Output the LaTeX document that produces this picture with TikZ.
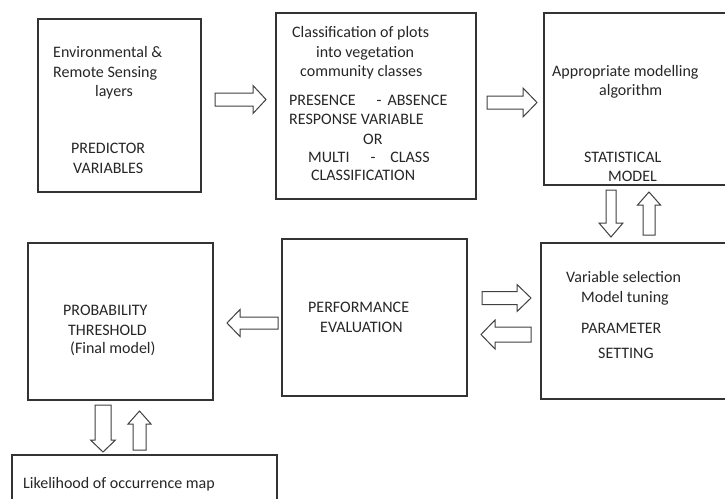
\documentclass[tikz,border=0pt]{standalone}
\usepackage{fontspec}
\setmainfont{Carlito}
\newcommand\harrowshape[6]{% tail x, head base x, tip x, y, shaft half, head half
  \draw[blockarrow] (#1,#4-#5) -- (#2,#4-#5) -- (#2,#4-#6) -- (#3,#4) -- (#2,#4+#6) -- (#2,#4+#5) -- (#1,#4+#5) -- cycle;}
\newcommand\varrowshape[6]{% x, tail y, head base y, tip y, shaft half, head half
  \draw[blockarrow] (#1-#5,#2) -- (#1-#5,#3) -- (#1-#6,#3) -- (#1,#4) -- (#1+#6,#3) -- (#1+#5,#3) -- (#1+#5,#2) -- cycle;}
\begin{document}
\begin{tikzpicture}[x=1pt,y=-1pt,
  box/.style={draw=black!80, line width=1.5pt, inner sep=0pt, fill=none},
  blockarrow/.style={draw=black!75, line width=1pt, fill=white, line join=miter},
  lbl/.style={anchor=west, inner sep=0pt, text height=10.5pt, text depth=0pt,
    font=\fontsize{16}{19}\selectfont, text=black!85}]
\useasboundingbox (0,0) rectangle (725,498);
% boxes
\node[box, minimum width=163pt, minimum height=173pt] (b1) at (119.5,105.5) {};
\node[box, minimum width=200pt, minimum height=186pt] (b2) at (376,106) {};
\node[box, minimum width=186pt, minimum height=172pt] (b3) at (637,99) {};
\node[box, minimum width=189pt, minimum height=156pt] (b4) at (635.5,321) {};
\node[box, minimum width=185pt, minimum height=157pt] (b5) at (374.5,317.5) {};
\node[box, minimum width=185pt, minimum height=157pt] (b6) at (120.5,321.5) {};
\node[box, minimum width=265pt, minimum height=55pt] (b7) at (144.5,482.5) {};
% texts box 1
\node[lbl] (t1a) at (53,52) {Environmental \&};
\node[lbl] (t1b) at (53,72) {Remote Sensing};
\node[lbl] (t1c) at (95,91) {layers};
\node[lbl] (t1d) at (71,148) {PREDICTOR};
\node[lbl] (t1e) at (73,168) {VARIABLES};
% texts box 2
\node[lbl] (t2a) at (292,32) {Classification of plots};
\node[lbl] (t2b) at (316,52) {into vegetation};
\node[lbl] (t2c) at (300,71) {community classes};
\node[lbl] (t2d) at (289,100) {PRESENCE\hspace*{21pt}-\hspace*{6pt}ABSENCE};
\node[lbl] (t2e) at (289,119) {RESPONSE VARIABLE};
\node[lbl] (t2f) at (363,139) {OR};
\node[lbl] (t2g) at (308,157) {MULTI\hspace*{21pt}-\hspace*{15pt}CLASS};
\node[lbl] (t2h) at (311,175) {CLASSIFICATION};
% texts box 3
\node[lbl] (t3a) at (552,71) {Appropriate modelling};
\node[lbl] (t3b) at (599,90) {algorithm};
\node[lbl] (t3c) at (584,157) {STATISTICAL};
\node[lbl] (t3d) at (608,176) {MODEL};
% texts box 4
\node[lbl] (t4a) at (566,277) {Variable selection};
\node[lbl] (t4b) at (581,297) {Model tuning};
\node[lbl] (t4c) at (581,328) {PARAMETER};
\node[lbl] (t4d) at (598,353) {SETTING};
% texts box 5
\node[lbl] (t5a) at (308,307) {PERFORMANCE};
\node[lbl] (t5b) at (320,327) {EVALUATION};
% texts box 6
\node[lbl] (t6a) at (63,310) {PROBABILITY};
\node[lbl] (t6b) at (68,330) {THRESHOLD};
\node[lbl] (t6c) at (70,348) {(Final model)};
% text box 7
\node[lbl] (t7a) at (23,483) {Likelihood of occurrence map};
% block arrows
\harrowshape{215}{253}{266}{99.5}{6.5}{14}
\harrowshape{487}{523}{537}{102.5}{6.5}{14.5}
\varrowshape{611}{190}{223}{237}{5}{12}
\varrowshape{649}{235}{205}{192}{6}{11.5}
\harrowshape{482}{517}{531}{298}{6.5}{13.5}
\harrowshape{531}{495}{481}{334.5}{7.5}{14.5}
\harrowshape{278}{240}{227}{323}{6}{13.5}
\varrowshape{103}{405}{440}{452}{8}{12.5}
\varrowshape{139.5}{450}{424}{411}{6.5}{11.5}
\end{tikzpicture}
\end{document}
